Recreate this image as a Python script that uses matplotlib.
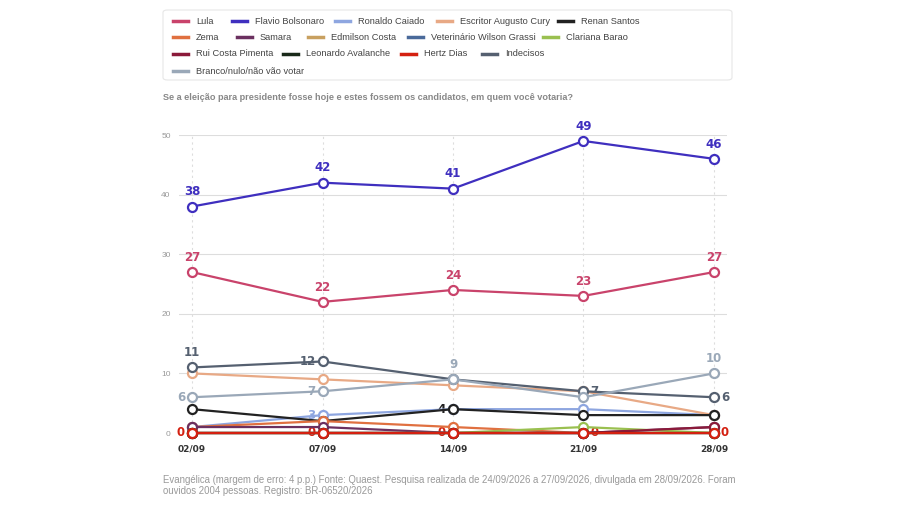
import matplotlib
matplotlib.use("Agg")
import matplotlib.pyplot as plt
from matplotlib.patches import FancyBboxPatch
from matplotlib.lines import Line2D

plt.rcParams['font.family'] = ['Liberation Sans', 'DejaVu Sans']

dates = ["02/09", "07/09", "14/09", "21/09", "28/09"]
names = ["Lula", "Flavio Bolsonaro", "Ronaldo Caiado", "Escritor Augusto Cury", "Renan Santos",
         "Zema", "Samara", "Edmilson Costa", "Veterinário Wilson Grassi", "Clariana Barao",
         "Rui Costa Pimenta", "Leonardo Avalanche", "Hertz Dias", "Indecisos", "Branco/nulo/não vão votar"]
colors = ["#c9436b", "#3f2fbf", "#8ea6e0", "#e8a985", "#222222",
          "#e07040", "#6b3060", "#c8a060", "#4a6a9a", "#9ac050",
          "#8b1a3a", "#1a2a1a", "#d42010", "#556070", "#9aa8b8"]
lula = [27, 22, 24, 23, 27]
flavio = [38, 42, 41, 49, 46]
caiado = [1, 3, 4, 4, 3]
cury = [10, 9, 8, 7, 3]
renan = [4, 2, 4, 3, 3]
zema = [1, 2, 1, 0, 0]
samara = [1, 1, 0, 0, 1]
edmilson = [0, 0, 0, 0, 0]
grassi = [0, 0, 0, 0, 0]
clariana = [0, 0, 0, 1, 0]
rui = [0, 0, 0, 0, 1]
leonardo = [0, 0, 0, 0, 0]
hertz = [0, 0, 0, 0, 0]
indecisos = [11, 12, 9, 7, 6]
branco = [6, 7, 9, 6, 10]
series = [lula, flavio, caiado, cury, renan, zema, samara, edmilson, grassi, clariana,
          rui, leonardo, hertz, indecisos, branco]

labels = [(1, i, 'above') for i in range(5)] + [(0, i, 'above') for i in range(5)] + [
    (13, 0, 'above'), (13, 1, 'left'), (13, 3, 'right'), (13, 4, 'right'),
    (14, 0, 'left'), (14, 1, 'left'), (14, 2, 'above'), (14, 4, 'above'),
    (2, 1, 'left'), (4, 2, 'left'),
    (12, 0, 'left'), (12, 1, 'left'), (12, 2, 'left'), (12, 3, 'right'), (12, 4, 'right')]

fig = plt.figure(figsize=(9, 5.05), dpi=100)
W, H = 900, 505
ax = fig.add_axes([179 / W, 1 - 433 / H, 548 / W, 298 / H])
x = list(range(len(dates)))
order = [14, 13, 3, 2, 4, 5, 6, 7, 8, 9, 10, 11, 0, 1, 12]
for k in order:
    ax.plot(x, series[k], color=colors[k], lw=1.6, marker='o', ms=6.5, mfc='white',
            mec=colors[k], mew=1.6, clip_on=False, zorder=3 + k * 0.01)
for s, i, pl in labels:
    v = series[s][i]
    c = colors[s]
    kw = dict(textcoords='offset points', fontsize=8.5, fontweight='bold', color=c,
              family=['DejaVu Sans'])
    if pl == 'above':
        ax.annotate(str(v), (i, v), xytext=(0, 6), ha='center', va='bottom', **kw)
    elif pl == 'left':
        ax.annotate(str(v), (i, v), xytext=(-5, 0), ha='right', va='center', **kw)
    else:
        ax.annotate(str(v), (i, v), xytext=(5, 0), ha='left', va='center', **kw)
ax.set_xlim(-0.1, 4.1)
ax.set_ylim(0, 50)
ax.set_yticks([0, 10, 20, 30, 40, 50])
ax.set_yticklabels(['0', '10', '20', '30', '40', '50'], fontsize=6, color='#999999')
ax.set_xticks(x)
ax.set_xticklabels(dates, fontsize=6.5, fontweight='bold', color='#333333', family=['DejaVu Sans'])
ax.tick_params(length=0, pad=8)
ax.tick_params(axis='y', pad=6)
ax.grid(axis='y', color='#dddddd', lw=0.8)
ax.grid(axis='x', color='#dddddd', lw=0.8, ls=(0, (2, 3)))
for sp in ax.spines.values():
    sp.set_visible(False)
ax.set_axisbelow(True)

fig.patches.append(FancyBboxPatch((163 / W, 1 - 80 / H), 569 / W, 70 / H,
                                  boxstyle='round,pad=0,rounding_size=0.005',
                                  transform=fig.transFigure, fc='white', ec='#e6e6e6', lw=0.8))
legx = [[173, 232, 335, 437, 558], [173, 237, 308, 408, 543], [173, 283, 401, 482], [173]]
rowy = [21, 37, 54, 71]
j = 0
for r, xs in enumerate(legx):
    for xx in xs:
        yy = rowy[r]
        fig.add_artist(Line2D([xx / W, (xx + 15) / W], [1 - yy / H, 1 - yy / H], color=colors[j], lw=2.5))
        fig.text((xx + 23) / W, 1 - yy / H, names[j], fontsize=6.7, color='#444444', va='center')
        j += 1

fig.text(163 / W, 1 - 97 / H,
         "Se a eleição para presidente fosse hoje e estes fossem os candidatos, em quem você votaria?",
         fontsize=6.6, fontweight='bold', color='#888888', va='center')
fig.text(163 / W, 1 - 480 / H,
         "Evangélica (margem de erro: 4 p.p.) Fonte: Quaest. Pesquisa realizada de 24/09/2026 a 27/09/2026, divulgada em 28/09/2026. Foram",
         fontsize=6.9, color='#999999', va='center')
fig.text(163 / W, 1 - 491 / H, "ouvidos 2004 pessoas. Registro: BR-06520/2026",
         fontsize=6.9, color='#999999', va='center')
fig.savefig("out.png", dpi=100, facecolor='white')
